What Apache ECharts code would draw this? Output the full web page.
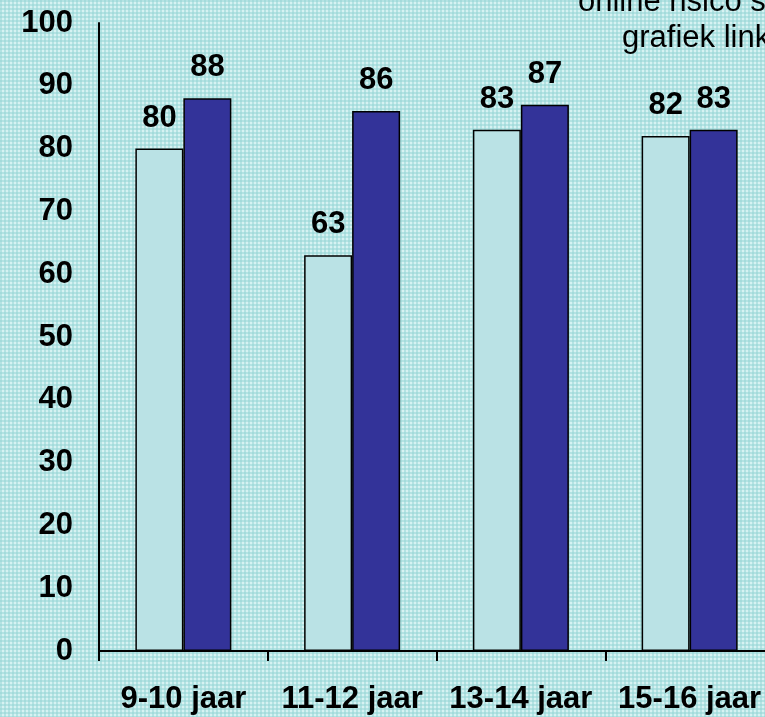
<!DOCTYPE html>
<html>
<head>
<meta charset="utf-8">
<script src="https://cdn.jsdelivr.net/npm/echarts@6/dist/echarts.min.js"></script>
<style>
  html, body {
    margin: 0;
    padding: 0;
    overflow: hidden;
  }
  #chart {
    width: 776px;
    height: 717px;
    background-color: #d6f2f2;
    background-image:
      linear-gradient(90deg, rgba(150, 214, 214, 0.55) 2px, transparent 2px),
      linear-gradient(rgba(150, 214, 214, 0.55) 2px, transparent 2px);
    background-size: 4px 4px;
  }
</style>
</head>
<body>
<div id="chart"></div>
<script>
// leeftijdsgroepen en waarden
const categories = ['9-10 jaar', '11-12 jaar', '13-14 jaar', '15-16 jaar']
const lightValues = [80, 63, 83, 82]
const darkValues = [88, 86, 87, 83]
const noteLines = ['online risico s', 'grafiek link']

const font = 'Liberation Sans'

const labelStyle = {
  show: true,
  position: 'top',
  distance: 15,
  color: '#000',
  fontFamily: font,
  fontWeight: 'bold',
  fontSize: 31
}

const myChart = echarts.init(document.getElementById('chart'))
const option = {
  backgroundColor: 'transparent',
  animation: false,
  grid: {
    left: 99,
    top: 23,
    width: 675,
    height: 628
  },
  graphic: [
    {
      type: 'text',
      x: 578,
      y: -13,
      style: {
        text: noteLines[0],
        fontSize: 31,
        fontFamily: font,
        fill: '#000',
        verticalAlign: 'top'
      }
    },
    {
      type: 'text',
      x: 622,
      y: 23,
      style: {
        text: noteLines[1],
        fontSize: 31,
        fontFamily: font,
        fill: '#000',
        verticalAlign: 'top'
      }
    }
  ],
  xAxis: [{
    type: 'category',
    data: categories,
    boundaryGap: true,
    axisLine: {
      show: true,
      lineStyle: { color: '#000', width: 2 }
    },
    axisTick: {
      show: true,
      length: 10,
      lineStyle: { color: '#000', width: 2 }
    },
    axisLabel: {
      margin: 33,
      interval: 0,
      color: '#000',
      fontFamily: font,
      fontWeight: 'bold',
      fontSize: 31
    }
  }],
  yAxis: [{
    type: 'value',
    min: 0,
    max: 100,
    interval: 10,
    splitLine: { show: false },
    axisTick: { show: false },
    axisLine: {
      show: true,
      lineStyle: { color: '#000', width: 2 }
    },
    axisLabel: {
      margin: 26,
      color: '#000',
      fontFamily: font,
      fontWeight: 'bold',
      fontSize: 31
    }
  }],
  series: [
    {
      name: 'licht',
      type: 'bar',
      barWidth: 48,
      barGap: '0%',
      data: lightValues,
      itemStyle: { color: '#bae2e5', borderColor: '#000', borderWidth: 1.5 },
      label: labelStyle
    },
    {
      name: 'donker',
      type: 'bar',
      barWidth: 48,
      barGap: '0%',
      data: darkValues,
      itemStyle: { color: '#333399', borderColor: '#000', borderWidth: 1.5 },
      label: labelStyle
    }
  ]
}
myChart.setOption(option)
</script>
</body>
</html>
